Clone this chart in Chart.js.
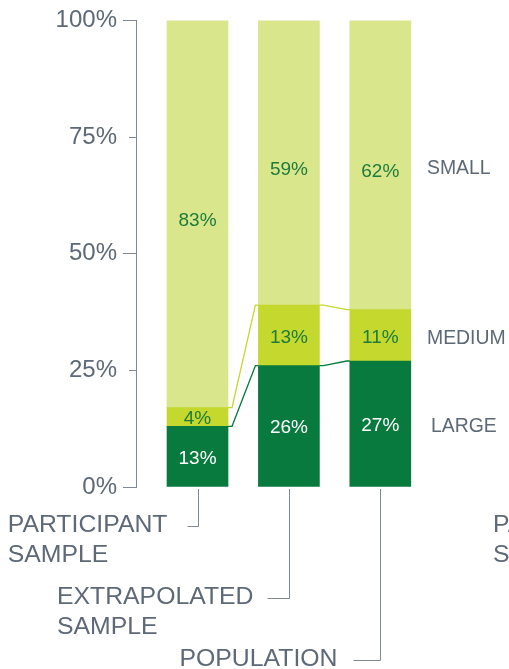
<!DOCTYPE html>
<html>
<head>
<meta charset="utf-8">
<script src="https://cdn.jsdelivr.net/npm/chart.js@4/dist/chart.umd.min.js"></script>
<style>
  html, body { margin: 0; padding: 0; background: #ffffff; }
  canvas { display: block; }
</style>
</head>
<body>
<canvas id="c" width="509" height="669"></canvas>
<script>
// ---- data ----
const categories = ['PARTICIPANT SAMPLE', 'EXTRAPOLATED SAMPLE', 'POPULATION'];
const seriesNames = ['LARGE', 'MEDIUM', 'SMALL'];
const largeValues = [13, 26, 27];
const mediumValues = [4, 13, 11];
const smallValues = [83, 61, 62];
const smallPrinted = [83, 59, 62];
const yTickValues = [0, 25, 50, 75, 100];
const extraLabel = 'PARTICIPANT SAMPLE';

// ---- styles ----
const C_LARGE = '#087a3e';
const C_MEDIUM = '#c5d82e';
const C_SMALL = '#d9e68b';
const C_TEXT = '#5d6977';
const C_AXIS = '#7f8995';
const C_VAL = '#1d7c3c';
const FONT = '"Liberation Sans", Arial, sans-serif';

function pts(arr) { return arr.map((v, i) => ({ x: i, y: v })); }

const overlay = {
  id: 'overlay',
  afterDatasetsDraw(chart) {
    const ctx = chart.ctx;
    const area = chart.chartArea;
    const yScale = chart.scales.y;
    const metas = [0, 1, 2].map(i => chart.getDatasetMeta(i));

    ctx.save();
    // minor ticks (25%, 75%)
    ctx.strokeStyle = C_AXIS;
    ctx.lineWidth = 1;
    yScale.ticks.forEach(t => {
      if (t.value % 50 !== 0) {
        const y = Math.round(yScale.getPixelForValue(t.value)) + 0.5;
        ctx.beginPath();
        ctx.moveTo(area.left - 7, y);
        ctx.lineTo(area.left, y);
        ctx.stroke();
      }
    });

    // connector lines between bars
    const connectorColors = [C_LARGE, C_MEDIUM];
    [0, 1].forEach(di => {
      const els = metas[di].data;
      ctx.strokeStyle = connectorColors[di];
      ctx.lineWidth = 1.3;
      for (let i = 0; i < els.length - 1; i++) {
        const a = els[i], b = els[i + 1];
        const ax = a.x + a.width / 2, bx = b.x - b.width / 2;
        ctx.beginPath();
        ctx.moveTo(ax, a.y);
        ctx.lineTo(ax + 4, a.y);
        ctx.lineTo(bx - 3, b.y);
        ctx.lineTo(bx, b.y);
        ctx.stroke();
      }
    });

    // value labels
    const valueSets = [largeValues, mediumValues, smallPrinted];
    const valueColors = ['#ffffff', C_VAL, C_VAL];
    const yOff = [2, 2, 7];
    ctx.font = '19px ' + FONT;
    ctx.textAlign = 'center';
    ctx.textBaseline = 'middle';
    metas.forEach((m, di) => {
      m.data.forEach((el, i) => {
        ctx.fillStyle = valueColors[di];
        ctx.fillText(valueSets[di][i] + '%', el.x, (el.y + el.base) / 2 + yOff[di]);
      });
    });

    // series labels on the right, aligned with last bar
    ctx.font = '19.4px ' + FONT;
    ctx.textAlign = 'left';
    ctx.fillStyle = C_TEXT;
    const seriesX = [431, 427, 427];
    const seriesOff = [3, 3, 4];
    metas.forEach((m, di) => {
      const el = m.data[m.data.length - 1];
      ctx.fillText(seriesNames[di], seriesX[di], (el.y + el.base) / 2 + seriesOff[di]);
    });

    // category labels with bracket lines
    const bracketY = [526, 598, 660];
    const bracketLen = [11, 22, 27];
    const textGap = [20, 14, 16];
    ctx.font = '24.8px ' + FONT;
    ctx.textBaseline = 'middle';
    metas[0].data.forEach((el, i) => {
      const x = Math.round(el.x) + 0.5;
      const by = bracketY[i] + 0.5;
      ctx.strokeStyle = C_AXIS;
      ctx.lineWidth = 1;
      ctx.beginPath();
      ctx.moveTo(x, area.bottom + 2);
      ctx.lineTo(x, by);
      ctx.lineTo(x - bracketLen[i], by);
      ctx.stroke();
      const words = categories[i].split(' ');
      const rx = x - bracketLen[i] - textGap[i];
      ctx.fillStyle = C_TEXT;
      const lineW = ctx.measureText(words[0]).width;
      ctx.textAlign = 'left';
      words.forEach((w, k) => {
        ctx.fillText(w, rx - lineW, bracketY[i] - 1 + k * 30);
      });
    });

    // clipped label of next panel
    ctx.textAlign = 'left';
    extraLabel.split(' ').forEach((w, k) => {
      ctx.fillText(w, 493, 525 + k * 30);
    });
    ctx.restore();
  }
};

new Chart(document.getElementById('c'), {
  type: 'bar',
  data: {
    datasets: [
      { label: seriesNames[0], data: pts(largeValues), backgroundColor: C_LARGE },
      { label: seriesNames[1], data: pts(mediumValues), backgroundColor: C_MEDIUM },
      { label: seriesNames[2], data: pts(smallValues), backgroundColor: C_SMALL }
    ]
  },
  options: {
    responsive: false,
    animation: false,
    devicePixelRatio: 1,
    layout: { padding: { top: 19, bottom: 182, left: 0, right: 0 } },
    plugins: { legend: { display: false }, tooltip: { enabled: false } },
    datasets: { bar: { barThickness: 61 } },
    scales: {
      x: { type: 'linear', stacked: true, offset: false, min: -0.673, max: 3.408, display: false },
      y: {
        stacked: true, min: 0, max: 100,
        afterFit: s => { s.width = 136; },
        afterBuildTicks: s => { s.ticks = yTickValues.map(v => ({ value: v })); },
        ticks: {
          callback: v => v + '%',
          font: { family: FONT, size: 24 },
          color: C_TEXT,
          padding: 6
        },
        grid: {
          drawOnChartArea: false,
          tickLength: 13,
          tickWidth: 1,
          tickColor: c => (c.tick && c.tick.value % 50 === 0) ? C_AXIS : 'rgba(0,0,0,0)'
        },
        border: { color: C_AXIS, width: 1 }
      }
    }
  },
  plugins: [overlay]
});
</script>
</body>
</html>
